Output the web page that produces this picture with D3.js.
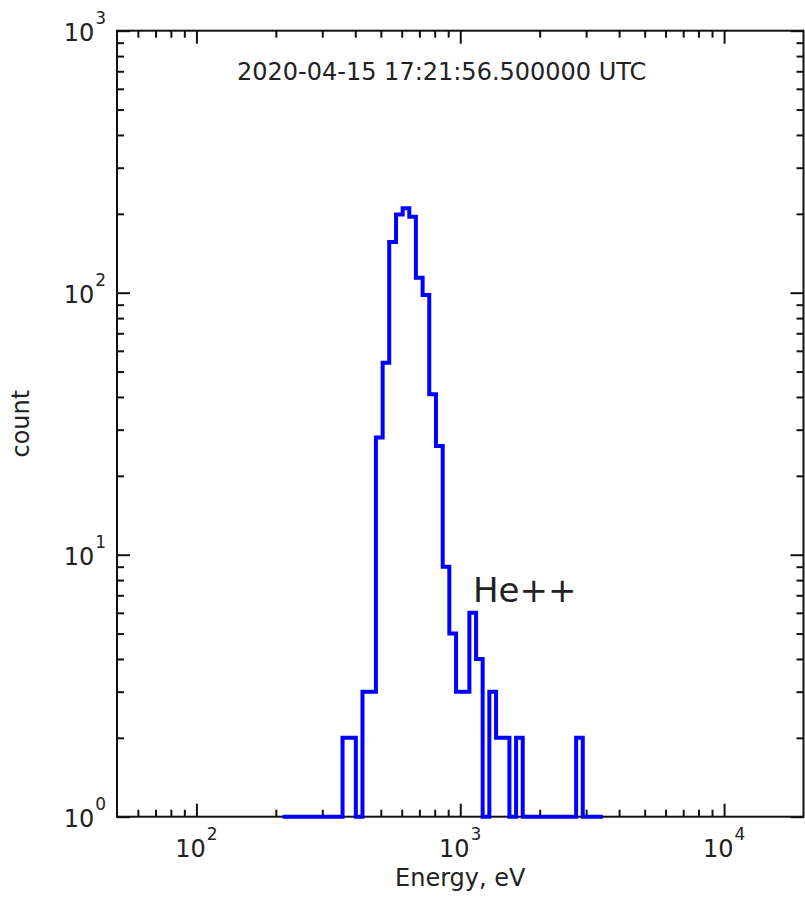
<!DOCTYPE html>
<html>
<head>
<meta charset="utf-8">
<script src="https://cdn.jsdelivr.net/npm/d3@7"></script>
<style>
  body { margin: 0; background: #fff; }
  text { font-family: "DejaVu Sans", sans-serif; fill: #222; }
</style>
</head>
<body>
<svg id="chart" width="805" height="898"></svg>
<script>
// Histogram step edges (eV) and counts
const binEdges = [212, 358, 402, 426, 479, 508, 538, 571, 605, 641, 679, 720, 763, 809,
  858, 909, 964, 1083, 1148, 1216, 1289, 1367, 1536, 1628, 1725, 2749, 2913, 3470];
const binCounts = [1, 2, 1, 3, 28, 54, 156, 199, 210, 195, 114, 98, 41, 26,
  9, 5, 3, 6, 4, 1, 3, 2, 1, 2, 1, 2, 1];

const xMajor = [100, 1000, 10000];
const xMajorExp = ["2", "3", "4"];
const yMajor = [1, 10, 100, 1000];
const yMajorExp = ["0", "1", "2", "3"];

const title = "2020-04-15 17:21:56.500000 UTC";
const note = "He++";

// layout
const plotLeft = 117, plotRight = 803.5, plotTop = 30.7, plotBottom = 816.7;

const svg = d3.select("#chart");

const x = d3.scaleLog().domain([50, 20000]).range([plotLeft, plotRight]);
const y = d3.scaleLog().domain([1, 1000]).range([plotBottom, plotTop]);

// minor tick values
const xMinor = [];
[10, 100, 1000, 10000].forEach(d => {
  for (let k = 2; k <= 9; k++) {
    const v = d * k;
    if (v > 50 && v < 20000 && !xMajor.includes(v)) xMinor.push(v);
  }
});
const yMinor = [];
[1, 10, 100].forEach(d => {
  for (let k = 2; k <= 9; k++) yMinor.push(d * k);
});

function styleAxis(g) {
  g.select(".domain").remove();
  g.selectAll("line").attr("stroke", "#111").attr("stroke-width", 2);
}

// ticks on all four sides, pointing inward
svg.append("g").attr("transform", `translate(0,${plotBottom})`)
  .call(d3.axisBottom(x).tickValues(xMajor).tickSize(-13).tickFormat("")).call(styleAxis);
svg.append("g").attr("transform", `translate(0,${plotBottom})`)
  .call(d3.axisBottom(x).tickValues(xMinor).tickSize(-7).tickFormat("")).call(styleAxis);
svg.append("g").attr("transform", `translate(0,${plotTop})`)
  .call(d3.axisTop(x).tickValues(xMajor).tickSize(-13).tickFormat("")).call(styleAxis);
svg.append("g").attr("transform", `translate(0,${plotTop})`)
  .call(d3.axisTop(x).tickValues(xMinor).tickSize(-7).tickFormat("")).call(styleAxis);
svg.append("g").attr("transform", `translate(${plotLeft},0)`)
  .call(d3.axisLeft(y).tickValues(yMajor).tickSize(-13).tickFormat("")).call(styleAxis);
svg.append("g").attr("transform", `translate(${plotLeft},0)`)
  .call(d3.axisLeft(y).tickValues(yMinor).tickSize(-7).tickFormat("")).call(styleAxis);
svg.append("g").attr("transform", `translate(${plotRight},0)`)
  .call(d3.axisRight(y).tickValues(yMajor).tickSize(-13).tickFormat("")).call(styleAxis);
svg.append("g").attr("transform", `translate(${plotRight},0)`)
  .call(d3.axisRight(y).tickValues(yMinor).tickSize(-7).tickFormat("")).call(styleAxis);

// frame
svg.append("rect")
  .attr("x", plotLeft).attr("y", plotTop)
  .attr("width", plotRight - plotLeft).attr("height", plotBottom - plotTop)
  .attr("fill", "none").attr("stroke", "#111").attr("stroke-width", 2);

// tick labels: 10 with superscript exponent
xMajor.forEach((v, i) => {
  const t = svg.append("text")
    .attr("x", x(v)).attr("y", plotBottom + 40)
    .attr("text-anchor", "middle")
    .attr("font-size", 24);
  t.append("tspan").text("10");
  t.append("tspan").attr("font-size", 17).attr("dy", -17).attr("dx", 1).text(xMajorExp[i]);
});
yMajor.forEach((v, i) => {
  const t = svg.append("text")
    .attr("x", 106).attr("y", y(v) + 10)
    .attr("text-anchor", "end")
    .attr("font-size", 24);
  t.append("tspan").text("10");
  t.append("tspan").attr("font-size", 17).attr("dy", -17).attr("dx", 1).text(yMajorExp[i]);
});

// axis titles
svg.append("text")
  .attr("x", (plotLeft + plotRight) / 2).attr("y", 886)
  .attr("text-anchor", "middle").attr("font-size", 24)
  .text("Energy, eV");
svg.append("text")
  .attr("transform", `translate(29,${(plotTop + plotBottom) / 2}) rotate(-90)`)
  .attr("text-anchor", "middle").attr("font-size", 24)
  .text("count");

// title and annotation
svg.append("text")
  .attr("x", 237).attr("y", 80)
  .attr("font-size", 24)
  .text(title);
svg.append("text")
  .attr("x", 473).attr("y", 602)
  .attr("font-size", 34)
  .text(note);

// step histogram
const pts = binCounts.map((c, i) => [binEdges[i], c]);
pts.push([binEdges[binEdges.length - 1], binCounts[binCounts.length - 1]]);

const line = d3.line()
  .x(d => x(d[0]))
  .y(d => y(d[1]))
  .curve(d3.curveStepAfter);

svg.append("path")
  .datum(pts)
  .attr("d", line)
  .attr("fill", "none")
  .attr("stroke", "#0000ff")
  .attr("stroke-width", 4)
  .attr("stroke-linejoin", "miter");
</script>
</body>
</html>
